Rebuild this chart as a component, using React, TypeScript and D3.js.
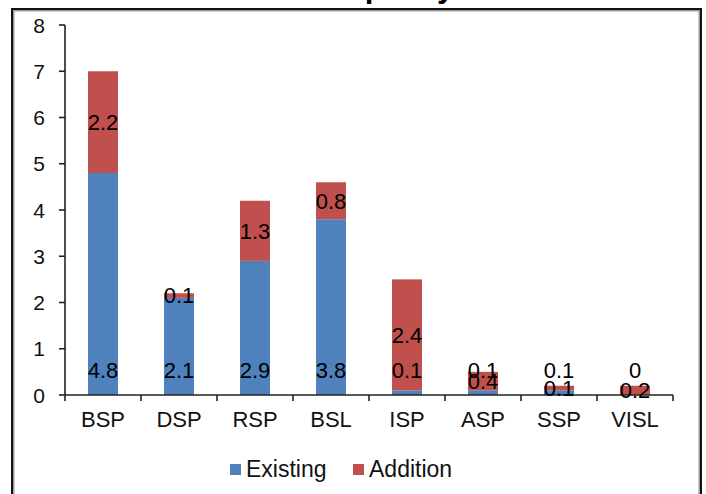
import React from "react";
import * as d3 from "d3";

// Plant capacity by unit (MTPA): current capacity and planned addition
const categories: string[] = ["BSP", "DSP", "RSP", "BSL", "ISP", "ASP", "SSP", "VISL"];
const existing: number[] = [4.8, 2.1, 2.9, 3.8, 0.1, 0.1, 0.1, 0];
const addition: number[] = [2.2, 0.1, 1.3, 0.8, 2.4, 0.4, 0.1, 0.2];
const yTicks: number[] = [0, 1, 2, 3, 4, 5, 6, 7, 8];
const seriesNames: string[] = ["Existing", "Addition"];

const W = 706;
const H = 494;
const FONT = "'Liberation Sans', Arial, Helvetica, sans-serif";
const BLUE = "#4F81BD";
const RED = "#C0504D";

export default function App() {
  const x = d3.scaleBand<string>().domain(categories).range([65, 673]).paddingInner(0.605).paddingOuter(0.3025);
  const y = d3.scaleLinear().domain([0, 8]).range([395, 25]);

  const rows = categories.map((c, i) => ({ cat: c, existing: existing[i], addition: addition[i] }));
  const stack = d3.stack<any>().keys(["existing", "addition"])(rows);
  const colors = [BLUE, RED];

  const bw = x.bandwidth();

  return (
    <svg width={W} height={H} style={{ position: "absolute", left: 0, top: 0, background: "#fff" }}>
      {/* frame */}
      <rect x={12} y={9} width={689} height={H} fill="#fff" stroke="#111" strokeWidth={2} />
      <rect x={13.75} y={10.75} width={685.5} height={H} fill="none" stroke="#999" strokeWidth={1.5} />

      {/* title, mostly above the visible area */}
      <text x={325} y={-3.5} fontFamily={FONT} fontSize={31} fontWeight="bold" fill="#000">
        Capacity
      </text>

      {/* bars */}
      {stack.map((layer, li) => (
        <g key={li} fill={colors[li]}>
          {layer.map((d, i) => (
            <rect
              key={i}
              x={x(categories[i])!}
              y={y(d[1])}
              width={bw}
              height={Math.max(0, y(d[0]) - y(d[1]))}
            />
          ))}
        </g>
      ))}

      {/* y axis */}
      <line x1={65} x2={65} y1={25} y2={395} stroke="#222" strokeWidth={1.6} />
      {yTicks.map((t) => (
        <g key={t}>
          <line x1={59} x2={65} y1={y(t)} y2={y(t)} stroke="#222" strokeWidth={1.6} />
          <text x={45} y={y(t)} dy="0.36em" textAnchor="end" fontFamily={FONT} fontSize={21} fill="#111">
            {t}
          </text>
        </g>
      ))}

      {/* x axis */}
      <line x1={65} x2={673} y1={395} y2={395} stroke="#222" strokeWidth={1.6} />
      {d3.range(categories.length + 1).map((i) => {
        const px = 65 + (i * (673 - 65)) / categories.length;
        return <line key={i} x1={px} x2={px} y1={395} y2={401} stroke="#222" strokeWidth={1.6} />;
      })}
      {categories.map((c) => (
        <text key={c} x={x(c)! + bw / 2} y={427} textAnchor="middle" fontFamily={FONT} fontSize={22} fill="#111">
          {c}
        </text>
      ))}

      {/* data labels: existing at the bar base, addition centred in its segment */}
      {rows.map((r, i) => (
        <g key={i} fontFamily={FONT} fontSize={22} fill="#000" textAnchor="middle">
          <text x={x(r.cat)! + bw / 2} y={y(0) - 25} dy="0.36em">
            {String(r.existing)}
          </text>
          <text x={x(r.cat)! + bw / 2} y={y(r.existing + r.addition / 2)} dy="0.36em">
            {String(r.addition)}
          </text>
        </g>
      ))}

      {/* legend */}
      {seriesNames.map((s, i) => {
        const lx = i === 0 ? 230 : 353;
        return (
          <g key={s}>
            <rect x={lx} y={464} width={11} height={11} fill={colors[i]} />
            <text x={lx + 16} y={477} fontFamily={FONT} fontSize={23} fill="#111">
              {s}
            </text>
          </g>
        );
      })}
    </svg>
  );
}
